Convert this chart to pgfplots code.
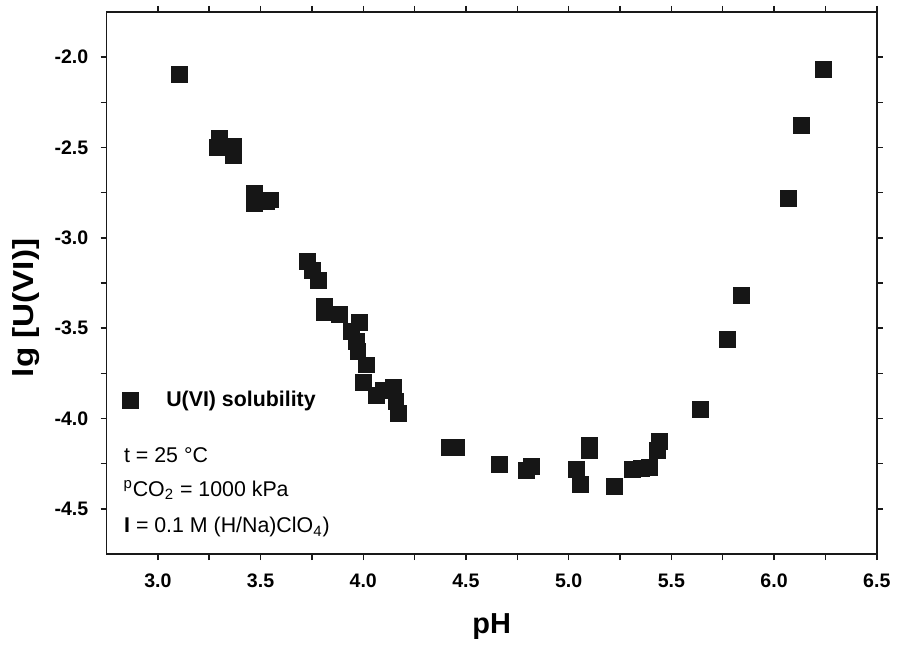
\documentclass[border=0pt]{standalone}
\usepackage{fontspec}
\setmainfont{Liberation Sans}
\usepackage{pgfplots}
\pgfplotsset{compat=1.18}
\definecolor{mk}{HTML}{161616}
\pgfplotsset{dotlegend/.style={legend image code/.code={\draw[##1] plot coordinates {(0pt,0pt)};}}}
\begin{document}
\begin{tikzpicture}
\begin{axis}[
  name=ax,
  scale only axis,
  width=386.25pt, height=271.85pt,
  xmin=2.75, xmax=6.5, ymin=-4.75, ymax=-1.75,
  xtick={3,3.5,4,4.5,5,5.5,6,6.5},
  ytick={-4.5,-4,-3.5,-3,-2.5,-2},
  minor x tick num=1, minor y tick num=1,
  tick align=outside, tick pos=both,
  major tick length=3pt, minor tick length=3pt,
  axis line style={line width=0.75pt, black!90},
  tick style={line width=0.75pt, black!90},
  /pgf/number format/assume math mode=true,
  /pgf/number format/fixed, /pgf/number format/fixed zerofill, /pgf/number format/precision=1,
  ticklabel style={font=\bfseries\fontsize{9.8}{11}\selectfont},
  xticklabel shift=3.5pt, yticklabel shift=2.6pt,
  xlabel={pH},
  ylabel={\scalebox{1.15}[1]{lg [U(VI)]}},
  label style={font=\bfseries\fontsize{14.5}{16}\selectfont},
  xlabel style={at={(axis description cs:0.5,-0.1459)}, anchor=base},
  ylabel style={at={(axis description cs:-0.0954,0.454)}, anchor=base},
  legend style={at={(axis cs:2.829,-3.901)}, anchor=west, draw=none, fill=none,
    inner sep=0pt, outer sep=0pt, font=\bfseries\fontsize{10.7}{12}\selectfont,
    nodes={inner sep=0pt},
    /tikz/every odd column/.append style={column sep=13.85pt}},
  legend cell align=left,
]
\addplot[only marks, mark=square*, mark size=4pt, mark options={fill=mk, draw=mk}, dotlegend]
  table {
x y
3.105 -2.095
3.299 -2.448
3.290 -2.497
3.369 -2.496
3.369 -2.545
3.469 -2.756
3.469 -2.812
3.530 -2.800
3.550 -2.790
3.727 -3.131
3.751 -3.180
3.780 -3.235
3.809 -3.380
3.809 -3.410
3.882 -3.422
3.940 -3.516
3.979 -3.466
3.965 -3.571
3.974 -3.626
4.013 -3.703
3.999 -3.802
4.062 -3.874
4.100 -3.846
4.149 -3.830
4.159 -3.907
4.169 -3.973
4.421 -4.160
4.455 -4.160
4.662 -4.255
4.793 -4.289
4.819 -4.265
5.037 -4.280
5.055 -4.362
5.100 -4.146
5.100 -4.177
5.222 -4.377
5.309 -4.280
5.353 -4.276
5.392 -4.270
5.431 -4.177
5.440 -4.127
5.643 -3.949
5.772 -3.564
5.842 -3.316
6.068 -2.784
6.131 -2.380
6.241 -2.068
};
\addlegendentry{U(VI) solubility}
\node[anchor=base west, inner sep=0pt, font=\fontsize{10.7}{12}\selectfont] at (axis cs:2.834,-4.243) {t = 25 °C};
\node[anchor=base west, inner sep=0pt, font=\fontsize{10.7}{12}\selectfont] at (axis cs:2.831,-4.430) {\textsuperscript{p}CO\textsubscript{2} = 1000 kPa};
\node[anchor=base west, inner sep=0pt, font=\fontsize{10.7}{12}\selectfont] at (axis cs:2.834,-4.632) {\textbf{I} = 0.1 M (H/Na)ClO\textsubscript{4})};
\end{axis}
\path ([shift={(-53.4pt,-43.65pt)}]ax.south west) rectangle ([shift={(8.85pt,6pt)}]ax.north east);
\end{tikzpicture}
\end{document}
